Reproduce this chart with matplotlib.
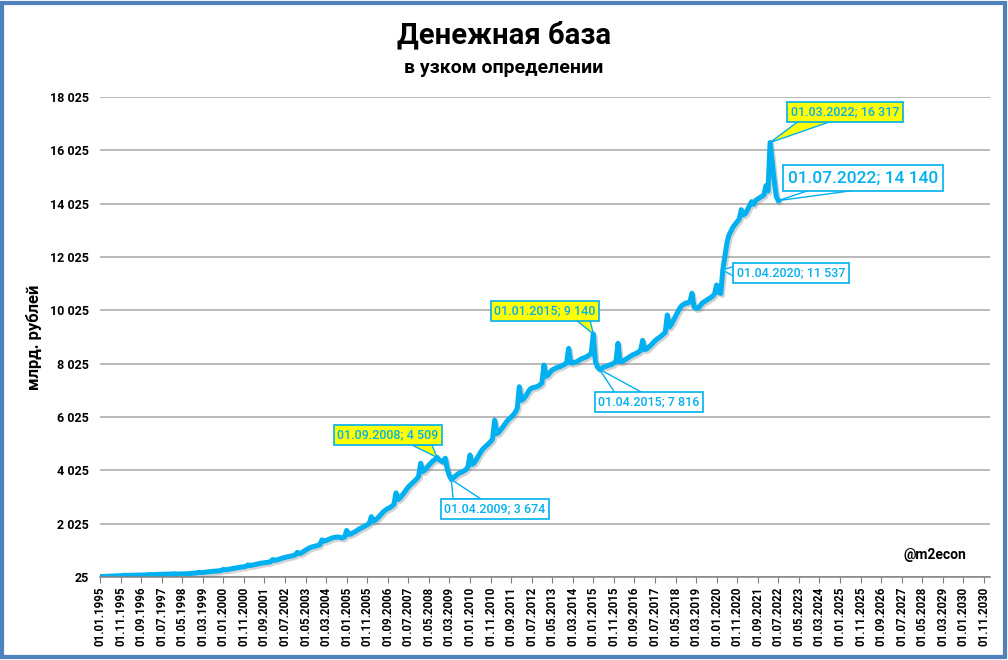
import matplotlib
matplotlib.use("Agg")
import matplotlib.pyplot as plt
import matplotlib.patheffects as pe
from matplotlib.patches import Rectangle, Polygon
import numpy as np
import pandas as pd

plt.rcParams['font.family'] = ['Roboto', 'DejaVu Sans']

# monthly narrow money base, bn rub, 01.01.1995 .. 01.07.2022
y1995 = [40, 42, 45, 48, 52, 56, 60, 64, 68, 72, 76, 80]
y1996 = [90, 85, 87, 90, 93, 96, 99, 101, 102, 103, 104, 106]
y1997 = [118, 112, 114, 117, 121, 125, 128, 131, 132, 133, 134, 136]
y1998 = [148, 138, 139, 141, 143, 145, 147, 150, 158, 165, 170, 178]
y1999 = [200, 190, 195, 205, 212, 222, 232, 240, 245, 250, 258, 268]
y2000 = [310, 295, 305, 320, 335, 350, 365, 378, 388, 398, 410, 425]
y2001 = [480, 455, 468, 485, 500, 520, 540, 552, 560, 568, 580, 598]
y2002 = [680, 650, 665, 690, 715, 740, 760, 780, 795, 810, 830, 855]
y2003 = [950, 900, 930, 980, 1030, 1080, 1120, 1150, 1170, 1190, 1210, 1240]
y2004 = [1420, 1370, 1390, 1430, 1460, 1490, 1510, 1520, 1530, 1500, 1490, 1530]
y2005 = [1770, 1620, 1640, 1680, 1720, 1770, 1820, 1860, 1900, 1940, 1980, 2030]
y2006 = [2290, 2120, 2160, 2230, 2310, 2400, 2480, 2540, 2590, 2630, 2680, 2750]
y2007 = [3180, 2930, 2990, 3090, 3190, 3300, 3400, 3480, 3550, 3620, 3700, 3800]
y2008 = [4290, 3980, 4030, 4120, 4220, 4300, 4380, 4430, 4509, 4420, 4380, 4330]
y2009 = [4480, 4050, 3820, 3674, 3750, 3820, 3880, 3930, 3960, 4000, 4050, 4150]
y2010 = [4600, 4250, 4300, 4420, 4550, 4680, 4800, 4880, 4950, 5020, 5100, 5200]
y2011 = [5910, 5400, 5450, 5550, 5650, 5760, 5870, 5950, 6020, 6100, 6200, 6350]
y2012 = [7160, 6650, 6700, 6800, 6920, 7050, 7110, 7130, 7150, 7180, 7230, 7300]
y2013 = [7975, 7550, 7600, 7700, 7790, 7830, 7870, 7900, 7920, 7960, 8000, 8050]
y2014 = [8600, 8050, 8050, 8080, 8100, 8150, 8200, 8230, 8260, 8300, 8350, 8420]
y2015 = [9140, 8100, 7900, 7816, 7850, 7900, 7920, 7950, 7980, 8000, 8050, 8100]
y2016 = [8790, 8100, 8100, 8150, 8200, 8250, 8300, 8350, 8380, 8420, 8460, 8520]
y2017 = [8900, 8550, 8580, 8650, 8720, 8800, 8880, 8950, 9000, 9060, 9130, 9200]
y2018 = [9850, 9400, 9500, 9650, 9800, 9950, 10100, 10200, 10250, 10300, 10300, 10350]
y2019 = [10664, 10150, 10100, 10110, 10200, 10300, 10350, 10400, 10450, 10500, 10550, 10650]
y2020 = [10975, 10700, 10660, 11537, 12050, 12550, 12850, 13000, 13150, 13250, 13350, 13450]
y2021 = [13800, 13600, 13650, 13800, 13950, 14100, 14000, 14150, 14200, 14250, 14300, 14350]
y2022 = [14700, 14500, 16317, 15600, 14900, 14300, 14140]

values = (y1995 + y1996 + y1997 + y1998 + y1999 + y2000 + y2001 + y2002 + y2003 + y2004
          + y2005 + y2006 + y2007 + y2008 + y2009 + y2010 + y2011 + y2012 + y2013 + y2014
          + y2015 + y2016 + y2017 + y2018 + y2019 + y2020 + y2021 + y2022)
dates = pd.date_range("1995-01-01", periods=len(values), freq="MS")

# category axis runs on to 2031, labelled every 10 months
axis_end = pd.Timestamp("2031-02-01")
tick_dates = pd.date_range("1995-01-01", "2030-11-01", freq="10MS")
y_ticks = list(range(25, 18026, 2000))

# (date, value, text, fill, text centre in image px, wedge base in image px, fontsize)
callouts = [
    ("2008-09-01", 4509, "01.09.2008; 4 509", "#FFFF00", (388, 435), ((412, 445), (432, 445)), 9),
    ("2009-04-01", 3674, "01.04.2009; 3 674", "white", (495, 509), ((453, 499), (481, 499)), 9),
    ("2015-01-01", 9140, "01.01.2015; 9 140", "#FFFF00", (545, 311), ((576, 320), (590, 320)), 9),
    ("2015-04-01", 7816, "01.04.2015; 7 816", "white", (649, 402), ((615, 393), (643, 393)), 9),
    ("2020-04-01", 11537, "01.04.2020; 11 537", "white", (791, 273), ((735, 266), (735, 277)), 9),
    ("2022-03-01", 16317, "01.03.2022; 16 317", "#FFFF00", (845, 112), ((800, 120), (835, 120)), 9),
    ("2022-07-01", 14140, "01.07.2022; 14 140", "white", (863, 178), ((810, 190), (857, 190)), 12.5),
]

blue = "#00B0F0"
W, H = 1008, 660


def month_idx(d):
    d = pd.Timestamp(d)
    return (d.year - 1995) * 12 + d.month - 1


fig = plt.figure(figsize=(10.08, 6.6), dpi=100)
ax = fig.add_axes([100 / W, 83 / H, 890 / W, 480 / H])

x = np.array([month_idx(d) for d in dates])
ax.plot(x, values, color=blue, lw=3.6, solid_joinstyle='round', zorder=3,
        path_effects=[pe.SimpleLineShadow(offset=(1.2, -1.5), shadow_color='gray', alpha=0.35),
                      pe.Normal()])

ax.set_xlim(0, month_idx(axis_end))
ax.set_ylim(25, 18025)
ax.set_yticks(y_ticks)
ax.set_yticklabels([f"{v:,}".replace(",", " ") for v in y_ticks], fontsize=9, fontweight='bold')
ax.set_xticks([month_idx(d) for d in tick_dates])
ax.set_xticklabels([d.strftime("%d.%m.%Y") for d in tick_dates], rotation=90,
                   fontsize=8.3, fontweight='bold')
ax.tick_params(axis='y', length=0, pad=8)
ax.tick_params(axis='x', length=4, color='#808080', pad=3)
ax.grid(axis='y', color='#A6A6A6', lw=1.1)
ax.set_axisbelow(True)
for s in ['left', 'right', 'top']:
    ax.spines[s].set_visible(False)
ax.spines['bottom'].set_color('#808080')
ax.spines['bottom'].set_linewidth(1.1)
ax.spines['bottom'].set_zorder(4)

ax.set_ylabel("млрд. рублей", fontsize=12, fontweight='bold', labelpad=6)

fig.text(0.5, 1 - 35 / H, "Денежная база", ha='center', va='center', fontsize=21, fontweight='bold')
fig.text(0.5, 1 - 68 / H, "в узком определении", ha='center', va='center', fontsize=14, fontweight='bold')
fig.text(935 / W, 1 - 555 / H, "@m2econ", ha='center', va='center', fontsize=10, fontweight='bold')

# callouts: triangle from the label box to the point, then the boxed label on top
for d, v, txt, fc, pos, base, fs in callouts:
    px, py = ax.transData.transform((month_idx(d), v))
    tri = [(base[0][0], H - base[0][1]), (base[1][0], H - base[1][1]), (px, py)]
    fig.patches.append(Polygon(tri, closed=True, transform=None, fc=fc, ec=blue,
                               lw=1, zorder=5))
    fig.text(pos[0] / W, 1 - pos[1] / H, txt, ha='center', va='center', fontsize=fs,
             color=blue, fontweight='medium', zorder=6,
             bbox=dict(boxstyle='square,pad=0.3', fc=fc, ec=blue, lw=1.2))

fig.patches.append(Rectangle((0.002, 0.004), 0.995, 0.992, transform=fig.transFigure,
                             fill=False, ec='#4F81BD', lw=3))

fig.savefig("out.png", dpi=100)
